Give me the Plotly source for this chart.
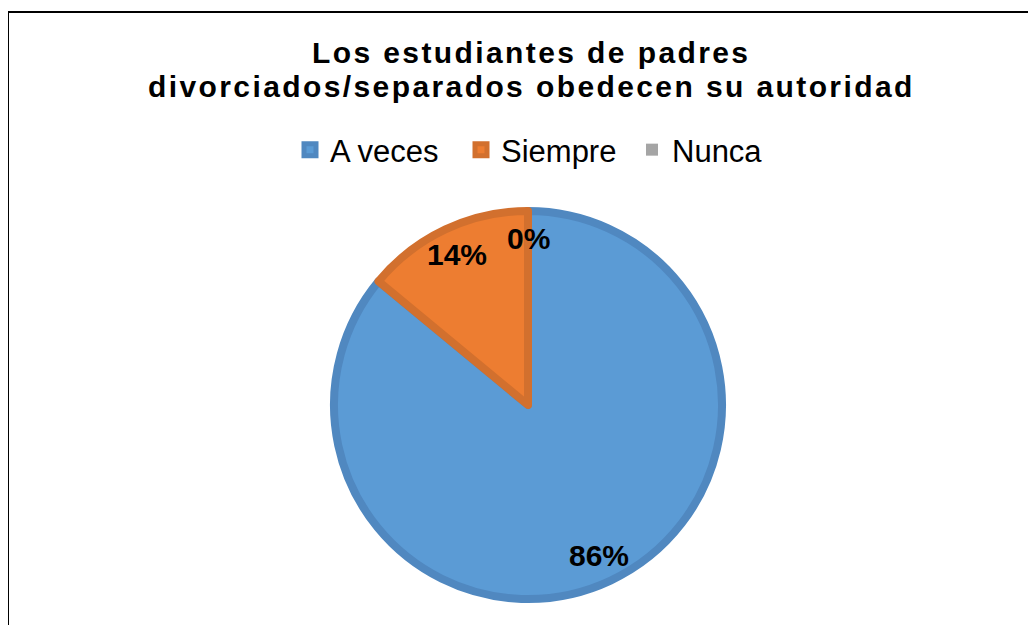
import math
import plotly.graph_objects as go

# Datos
categorias = ["A veces", "Siempre", "Nunca"]
valores = [86, 14, 0]
etiquetas = ["86%", "14%", "0%"]
colores = ["#5B9BD5", "#ED7D31", "#A5A5A5"]
bordes = ["#5088C0", "#D2702E", "#939393"]
titulo = ["Los estudiantes de padres", "divorciados/separados obedecen su autoridad"]

W, H = 1036, 625
OFF = 8  # margen por defecto del <body> de la página


def px(x):
    return (x - OFF) / W


def py(y):
    return 1 - (y - OFF) / H


# geometría del pastel (px de la página)
cx, cy, r = 528, 405, 194

fig = go.Figure(go.Pie(
    labels=categorias,
    values=valores,
    sort=False,
    direction="clockwise",
    rotation=0,
    textinfo="none",
    hoverinfo="label+percent",
    marker=dict(colors=colores, line=dict(color=bordes, width=[8, 8, 0])),
    domain=dict(x=[px(cx - r), px(cx + r)], y=[py(cy + r), py(cy - r)]),
))

# Etiquetas de porcentaje sobre la bisectriz de cada sector
total = sum(valores)
acum = 0
for v, txt in zip(valores, etiquetas):
    ang = 2 * math.pi * (acum + v / 2) / total
    acum += v
    rl = 0.86 * r
    fig.add_annotation(
        x=px(cx + rl * math.sin(ang)),
        y=py(cy - rl * math.cos(ang)),
        xref="paper", yref="paper", showarrow=False,
        xanchor="center", yanchor="middle",
        text="<b>" + txt + "</b>",
        font=dict(family="Liberation Sans", size=30, color="#000000"),
    )

# Título en dos líneas (interlineado más apretado que el de plotly)
for i, linea in enumerate(titulo):
    fig.add_annotation(
        x=px(531), y=py(52 + 34 * i), xref="paper", yref="paper",
        xanchor="center", yanchor="middle", showarrow=False,
        text='<span style="letter-spacing:2.4px"><b>' + linea + '</b></span>',
        font=dict(family="Liberation Sans", size=30, color="#000000"),
    )

# Marco del gráfico
fig.add_shape(type="rect", xref="paper", yref="paper",
              x0=0, x1=1.05, y0=-0.05, y1=py(12),
              line=dict(color="#000000", width=2), fillcolor="rgba(0,0,0,0)")

fig.update_layout(
    width=W, height=H,
    margin=dict(l=0, r=0, t=0, b=0),
    paper_bgcolor="white",
    font=dict(family="Liberation Sans", color="#000000"),
    legend=dict(
        orientation="h", x=px(290), xanchor="left", y=py(150), yanchor="middle",
        font=dict(family="Liberation Sans", size=31, color="#000000"),
        traceorder="normal", entrywidth=126, entrywidthmode="pixels",
    ),
)

fig.write_html("out.html")
